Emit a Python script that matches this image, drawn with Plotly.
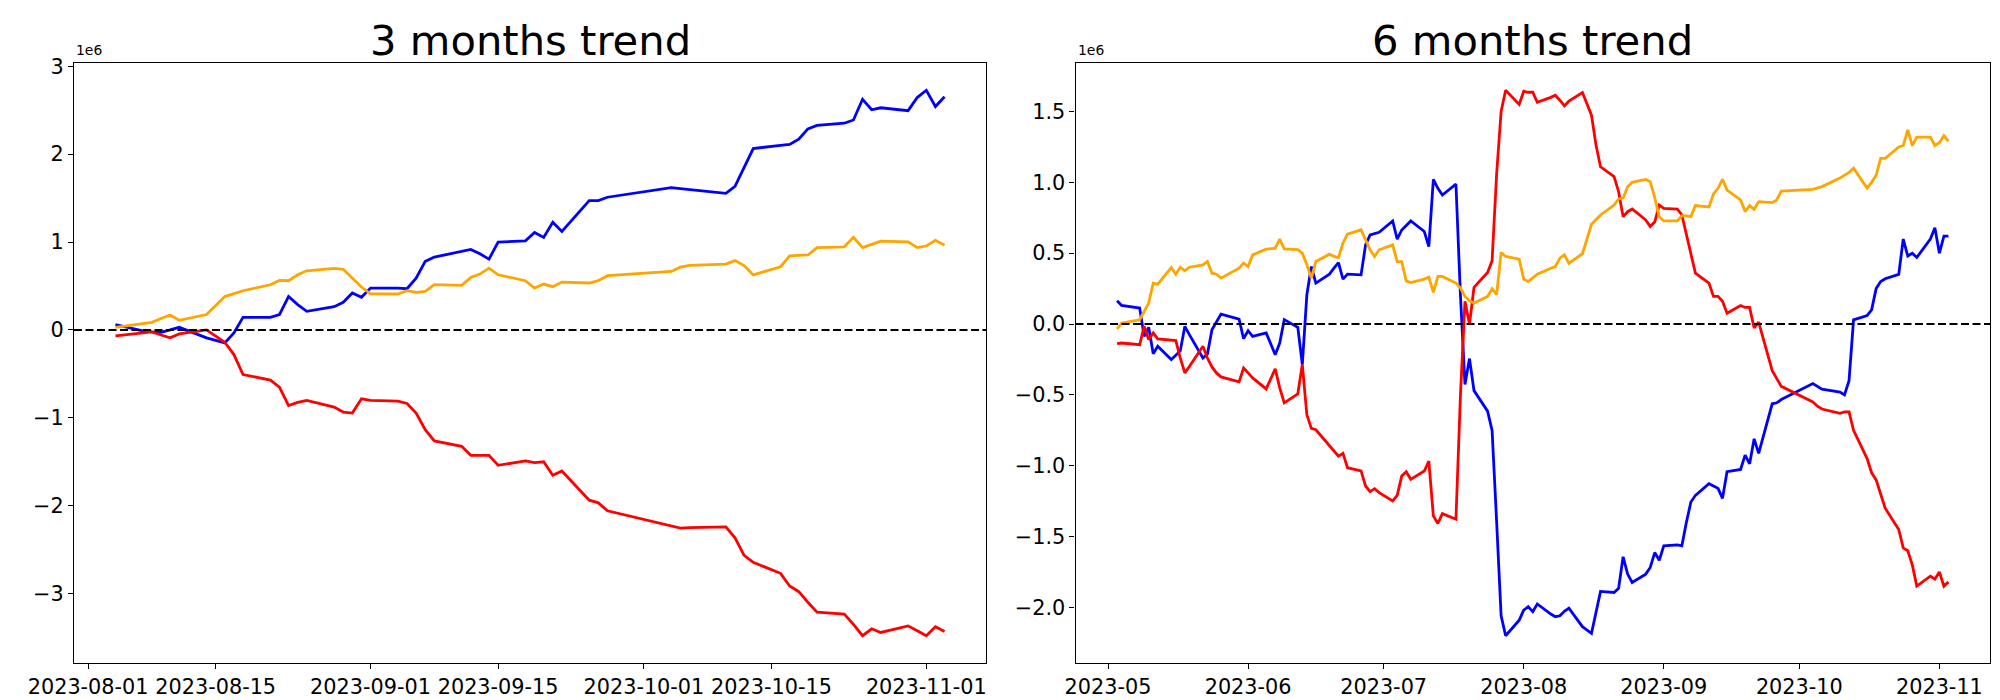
import pandas as pd
import plotly.graph_objects as go

# ---------------- data (values in units of 1e6) ----------------
KR_HOLIDAYS = ["2023-05-05", "2023-05-29", "2023-06-06", "2023-08-15",
               "2023-09-28", "2023-09-29", "2023-10-02", "2023-10-03", "2023-10-09"]

DATES_3M = pd.bdate_range("2023-08-04", "2023-11-03", freq="C", holidays=KR_HOLIDAYS)
DATES_6M = pd.bdate_range("2023-05-03", "2023-11-03", freq="C", holidays=KR_HOLIDAYS)

# 3 months
BLUE_3M = [0.06, -0.01, -0.023, -0.027, 0.0, 0.03, -0.09, -0.147, -0.034, 0.144,
           0.143, 0.174, 0.38, 0.288, 0.212, 0.265, 0.314, 0.42, 0.371, 0.477,
           0.477, 0.469, 0.59, 0.78, 0.829, 0.90, 0.916, 0.866, 0.806, 0.999,
           1.014, 1.109, 1.052, 1.226, 1.12, 1.472, 1.472, 1.51, 1.62, 1.608,
           1.597, 1.554, 1.633, 1.855, 2.064, 2.101, 2.11, 2.171, 2.287, 2.328,
           2.352, 2.389, 2.625, 2.505, 2.528, 2.495, 2.644, 2.727, 2.542, 2.653]
RED_3M = [-0.068, -0.034, -0.023, -0.057, -0.09, -0.045, 0.0, -0.14, -0.28, -0.507,
          -0.571, -0.65, -0.86, -0.825, -0.802, -0.878, -0.934, -0.946, -0.783, -0.802,
          -0.81, -0.836, -0.946, -1.135, -1.263, -1.324, -1.426, -1.426, -1.426, -1.54,
          -1.49, -1.51, -1.50, -1.653, -1.604, -1.937, -1.967, -2.058, -2.233, -2.255,
          -2.25, -2.24, -2.365, -2.565, -2.644, -2.769, -2.913, -2.978, -3.098, -3.21,
          -3.233, -3.349, -3.479, -3.40, -3.442, -3.367, -3.423, -3.479, -3.377, -3.432]
ORANGE_3M = [0.03, 0.07, 0.087, 0.13, 0.17, 0.11, 0.175, 0.38, 0.41, 0.446,
             0.514, 0.564, 0.56, 0.628, 0.673, 0.70, 0.69, 0.59, 0.488, 0.41,
             0.409, 0.447, 0.428, 0.439, 0.515, 0.507, 0.598, 0.636, 0.704, 0.628,
             0.560, 0.477, 0.522, 0.492, 0.545, 0.534, 0.560, 0.617, 0.666, 0.715,
             0.734, 0.75, 0.789, 0.733, 0.626, 0.719, 0.844, 0.849, 0.853, 0.937,
             0.946, 1.053, 0.937, 0.974, 1.011, 1.002, 0.937, 0.955, 1.02, 0.965]

# 6 months
BLUE_6M = [0.164, 0.131, 0.113, -0.087, -0.023, -0.209, -0.157, -0.25, -0.22, -0.188,
           -0.016, -0.075, -0.24, -0.211, -0.04, 0.014, 0.07, 0.035, -0.103,
           -0.047, -0.087, -0.063, -0.216, -0.134, 0.031, -0.023, -0.286, 0.206, 0.406,
           0.289, 0.352, 0.394, 0.434, 0.317, 0.352, 0.347, 0.559, 0.629, 0.641, 0.648,
           0.728, 0.599, 0.664, 0.7, 0.728, 0.653, 0.547, 1.021, 0.958, 0.911,
           0.988, 0.2, -0.427, -0.244, -0.47, -0.615, -0.751, -1.39, -2.06, -2.2, -2.09,
           -2.02, -1.995, -2.03, -1.976, -2.047, -2.066, -2.059, -2.028, -2.005, -2.136,
           -2.183, -2.024, -1.887, -1.895, -1.866, -1.643, -1.765, -1.824, -1.765, -1.718,
           -1.613, -1.667,
           -1.566, -1.559, -1.566, -1.4, -1.256, -1.209, -1.127, -1.143, -1.16, -1.23,
           -1.042, -1.026, -0.925, -0.986, -0.81, -0.913, -0.563, -0.556, -0.533,
           -0.42, -0.44, -0.46, -0.48, -0.5, -0.4, 0.03, 0.06, 0.1, 0.25,
           0.3, 0.32, 0.35, 0.6, 0.48, 0.5, 0.47, 0.6, 0.68,
           0.5, 0.62, 0.62]
RED_6M = [-0.138, -0.134, -0.146, -0.017, -0.11, -0.063, -0.105, -0.115, -0.117, -0.24,
          -0.345, -0.30, -0.157, -0.24, -0.303, -0.345, -0.373, -0.408, -0.31,
          -0.345, -0.38, -0.458, -0.317, -0.45, -0.556, -0.493, -0.286, -0.639, -0.737,
          -0.746, -0.862, -0.90, -0.932, -0.913, -1.014, -1.037, -1.143, -1.183, -1.162, -1.19,
          -1.249, -1.209, -1.073, -1.042, -1.096, -1.037, -0.967, -1.354, -1.408, -1.338,
          -1.378, -0.5, 0.16, 0.0, 0.259, 0.364, 0.446, 1.056, 1.5, 1.65, 1.55,
          1.643, 1.636, 1.636, 1.565, 1.6, 1.615, 1.58, 1.54, 1.573, 1.634,
          1.474, 1.263, 1.11, 1.04, 0.934, 0.758, 0.793, 0.812, 0.735, 0.688,
          0.72, 0.84,
          0.817, 0.812, 0.77, 0.63, 0.476, 0.359, 0.289, 0.195, 0.195, 0.16,
          0.077, 0.131, 0.117, 0.117, -0.028, 0.014, -0.329, -0.38, -0.44,
          -0.55, -0.58, -0.6, -0.63, -0.62, -0.62, -0.75, -0.95, -1.05, -1.1,
          -1.2, -1.3, -1.45, -1.58, -1.6, -1.7, -1.85, -1.78, -1.8,
          -1.75, -1.85, -1.82]
ORANGE_6M = [-0.035, 0.007, 0.03, 0.089, 0.148, 0.289, 0.282, 0.399, 0.352, 0.401,
             0.376, 0.401, 0.418, 0.441, 0.359, 0.352, 0.324, 0.394, 0.43,
             0.406, 0.488, 0.528, 0.535, 0.599, 0.531, 0.525, 0.5, 0.418, 0.324,
             0.441, 0.493, 0.477, 0.469, 0.571, 0.634, 0.665, 0.594, 0.524, 0.477, 0.524,
             0.559, 0.441, 0.441, 0.305, 0.293, 0.317, 0.331, 0.223, 0.336, 0.336,
             0.289, 0.254, 0.195, 0.164, 0.148, 0.195, 0.249, 0.207, 0.505, 0.477, 0.458,
             0.317, 0.3, 0.324, 0.352, 0.394, 0.406, 0.465, 0.488, 0.43, 0.496,
             0.704, 0.735, 0.77, 0.84, 0.883, 0.89, 0.969, 1.0, 1.021, 1.005,
             0.892, 0.758,
             0.728, 0.728, 0.765, 0.763, 0.758, 0.836, 0.826, 0.918, 0.958, 1.021,
             0.946, 0.876, 0.794, 0.836, 0.81, 0.864, 0.857, 0.876, 0.939,
             0.95, 0.96, 0.97, 1.03, 1.05, 1.07, 1.1, 0.96, 1.0, 1.05,
             1.17, 1.17, 1.25, 1.26, 1.37, 1.26, 1.32, 1.32, 1.26,
             1.28, 1.33, 1.29]

TICKS_3M = ["2023-08-01", "2023-08-15", "2023-09-01", "2023-09-15",
            "2023-10-01", "2023-10-15", "2023-11-01"]
TICKS_6M = ["2023-05-01", "2023-06-01", "2023-07-01", "2023-08-01",
            "2023-09-01", "2023-10-01", "2023-11-01"]
TICKTEXT_6M = ["2023-05", "2023-06", "2023-07", "2023-08", "2023-09", "2023-10", "2023-11"]
YTICKS_3M = [-3, -2, -1, 0, 1, 2, 3]
YTICKS_6M = [-2.0, -1.5, -1.0, -0.5, 0.0, 0.5, 1.0, 1.5]
TITLES = ["3 months trend", "6 months trend"]

# ---------------- figure ----------------
W, H = 2000, 700
FONT = "DejaVu Sans"
fig = go.Figure()

panels = [
    (DATES_3M, BLUE_3M, RED_3M, ORANGE_3M, "x", "y"),
    (DATES_6M, BLUE_6M, RED_6M, ORANGE_6M, "x2", "y2"),
]
for dates, b, r, o, xa, ya in panels:
    for vals, col in [(b, "blue"), (r, "red"), (o, "orange")]:
        fig.add_trace(go.Scatter(x=dates, y=vals, mode="lines", xaxis=xa, yaxis=ya,
                                 line=dict(color=col, width=2.8), showlegend=False,
                                 hoverinfo="skip"))


def mpl_range_dates(dates):
    d0, d1 = dates.min(), dates.max()
    pad = (d1 - d0) * 0.05
    return [d0 - pad, d1 + pad]


def mpl_range_vals(*series):
    allv = [v for s in series for v in s]
    lo, hi = min(allv), max(allv)
    pad = (hi - lo) * 0.05
    return [lo - pad, hi + pad]


top, bot = 1 - 55 / H, 1 - 655 / H
dom1 = [66 / W, 978 / W]
dom2 = [1067.5 / W, 1982 / W]

axis_common = dict(showgrid=False, zeroline=False, showline=True, mirror=True,
                   linecolor="black", linewidth=1.1, ticks="outside", ticklen=5,
                   tickwidth=1.1, tickcolor="black", automargin=False,
                   tickfont=dict(family=FONT, size=20.8, color="black"))

fig.update_layout(
    template="none",
    width=W, height=H, margin=dict(l=0, r=0, t=0, b=0, autoexpand=False),
    paper_bgcolor="white", plot_bgcolor="white", showlegend=False,
    xaxis=dict(domain=dom1, anchor="y", type="date", range=mpl_range_dates(DATES_3M),
               tickvals=TICKS_3M, ticktext=TICKS_3M, **axis_common),
    yaxis=dict(domain=[bot, top], anchor="x", range=mpl_range_vals(BLUE_3M, RED_3M, ORANGE_3M),
               tickvals=YTICKS_3M, tickformat="d", **axis_common),
    xaxis2=dict(domain=dom2, anchor="y2", type="date", range=mpl_range_dates(DATES_6M),
                tickvals=TICKS_6M, ticktext=TICKTEXT_6M, **axis_common),
    yaxis2=dict(domain=[bot, top], anchor="x2", range=mpl_range_vals(BLUE_6M, RED_6M, ORANGE_6M),
                tickvals=YTICKS_6M, tickformat=".1f", **axis_common),
)

for xa, ya in [("x", "y"), ("x2", "y2")]:
    fig.add_shape(type="line", xref=f"{xa} domain", yref=ya, x0=0, x1=1, y0=0, y1=0,
                  line=dict(color="black", width=2, dash="8px,3.5px"), layer="above")

for dom, title in zip([dom1, dom2], TITLES):
    fig.add_annotation(text=title, xref="paper", yref="paper", x=(dom[0] + dom[1]) / 2,
                       y=1 - 32.3 / H, xanchor="center", yanchor="middle", showarrow=False,
                       font=dict(family=FONT, size=41.7, color="black"))
    fig.add_annotation(text="1e6", xref="paper", yref="paper", x=dom[0], y=1 - 52 / H,
                       xanchor="left", yanchor="bottom", showarrow=False,
                       font=dict(family=FONT, size=13.9, color="black"))

fig.write_html("out.html")
